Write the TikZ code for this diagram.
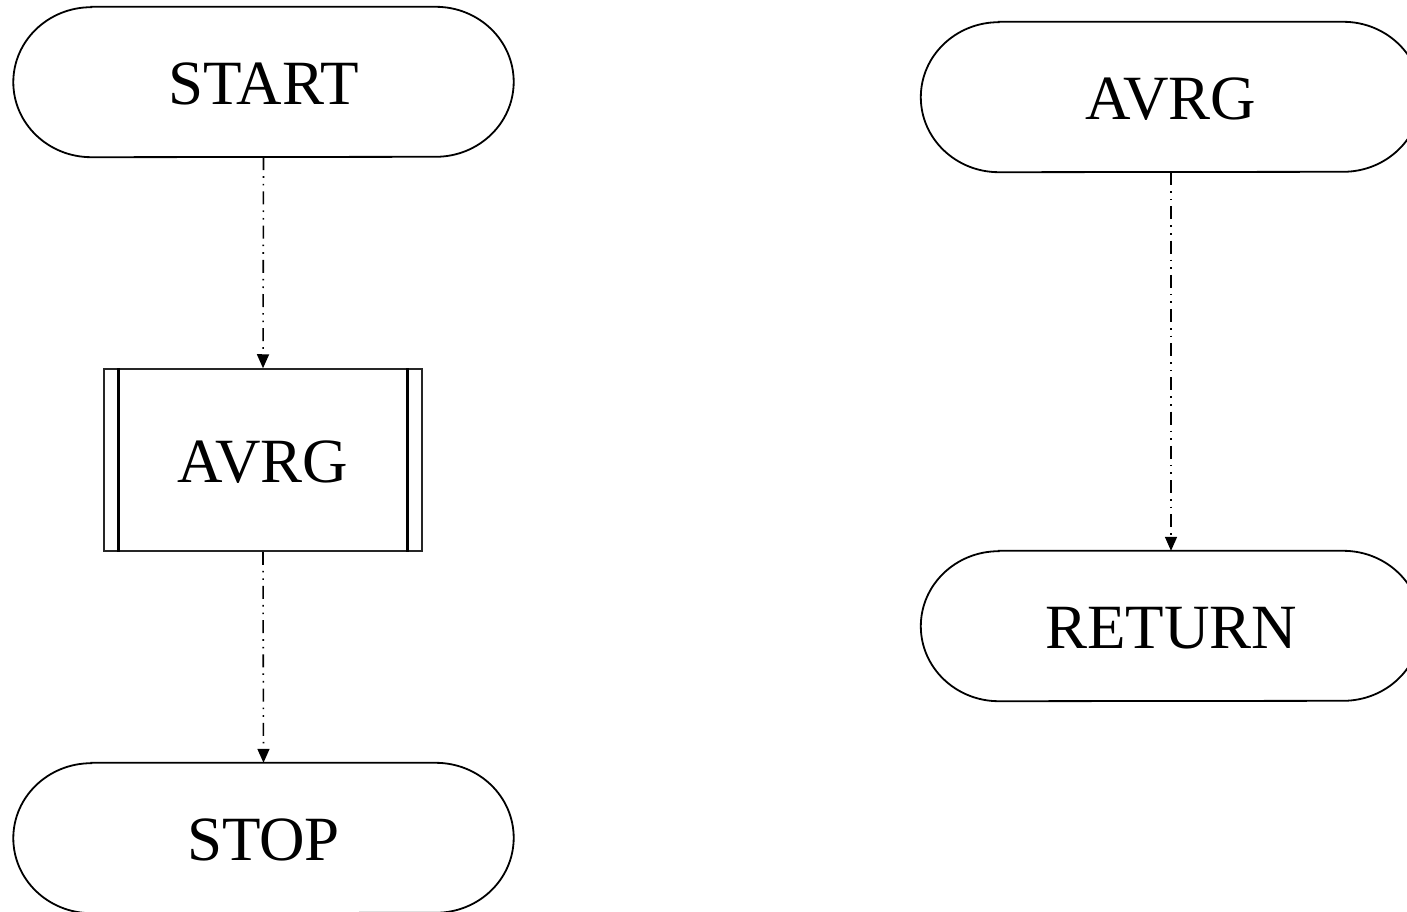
\documentclass[tikz,border=0pt]{standalone}
\usepackage{fontspec}
\setmainfont{Liberation Serif}
\usetikzlibrary{arrows.meta}

\tikzset{
  x=1pt, y=1pt,
  label text/.style={font=\fontsize{63}{70}\selectfont, inner sep=0pt},
  termbox/.style={draw=none, minimum width=500pt, minimum height=150pt, inner sep=0pt},
  subbox/.style={draw=black!85, line width=1.5pt, minimum width=318pt, minimum height=182pt, inner sep=0pt},
  outline/.style={line width=1.8pt, black},
  flow/.style={line width=1.6pt, black,
    dash pattern=on 13pt off 6pt on 1.6pt off 6pt on 1.6pt off 6pt,
    -{Triangle[length=14pt, width=12pt]}},
}

% stadium outline with half-ellipse end caps around a terminal node
\newcommand{\termoutline}[1]{%
  \draw[outline]
    ([xshift=78pt]#1.north west) -- ([xshift=-78pt]#1.north east)
    arc[start angle=90, end angle=-90, x radius=78pt, y radius=75pt]
    -- ([xshift=78pt]#1.south west)
    arc[start angle=270, end angle=90, x radius=78pt, y radius=75pt]
    -- cycle;}

\begin{document}
\begin{tikzpicture}
  \useasboundingbox (0,0) rectangle (1407,-912);

  % main program
  \node[termbox] (start) at (263.5,-82) {};
  \node[label text] at ([yshift=-2pt]start.center) {START};
  \node[subbox] (call) at (263,-460) {};
  \node[label text] at ([yshift=-2pt]call.center) {AVRG};
  \node[termbox] (stop) at (263.5,-838) {};
  \node[label text] at ([yshift=-2pt]stop.center) {STOP};

  % subroutine
  \node[termbox] (sub) at (1171,-97) {};
  \node[label text] at ([yshift=-2pt]sub.center) {AVRG};
  \node[termbox] (ret) at (1171,-626) {};
  \node[label text] at ([yshift=-2pt]ret.center) {RETURN};

  \termoutline{start}
  \termoutline{stop}
  \termoutline{sub}
  \termoutline{ret}

  % inner bars of the predefined-process box
  \draw[line width=2.6pt] ([xshift=15pt]call.north west) -- ([xshift=15pt]call.south west);
  \draw[line width=2.6pt] ([xshift=-15pt]call.north east) -- ([xshift=-15pt]call.south east);

  % connectors
  \draw[flow] (start.south) -- (call.north);
  \draw[flow] (call.south) -- (stop.north);
  \draw[flow] (sub.south) -- (ret.north);
\end{tikzpicture}
\end{document}
